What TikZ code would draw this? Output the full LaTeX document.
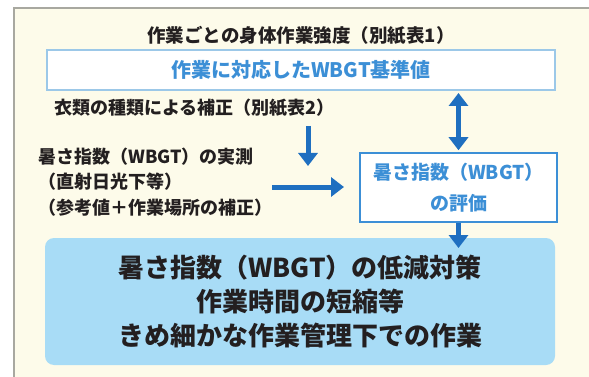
\documentclass[tikz,border=0pt]{standalone}
\usepackage{fontspec}
\newfontfamily\jp{Noto Sans CJK JP}
\usetikzlibrary{arrows.meta,calc}
\definecolor{cream}{HTML}{FDFBEA}
\definecolor{framegray}{HTML}{A8A8A0}
\definecolor{arrowblue}{HTML}{1F6FC0}
\definecolor{boxblue}{HTML}{3C8FD6}
\definecolor{lightborder}{HTML}{9CC8E8}
\definecolor{skyfill}{HTML}{A8DCF6}
\definecolor{txt}{HTML}{231F20}
\tikzset{
  x=1pt, y=1pt,
  lbl/.style={font=\jp\bfseries\fontsize{18}{24}\selectfont, text=txt, inner sep=0pt},
  bluebox/.style={draw=boxblue, line width=1.5pt, fill=white, font=\jp\bfseries\fontsize{19}{31}\selectfont, text=boxblue, align=center, inner sep=0pt},
  flow/.style={draw=arrowblue, line width=5pt, -{Triangle[width=19pt,length=13pt]}},
  flow2/.style={draw=arrowblue, line width=5pt, {Triangle[width=19pt,length=13pt]}-{Triangle[width=19pt,length=13pt]}},
}
\begin{document}
\begin{tikzpicture}
\useasboundingbox (0,0) rectangle (589,-377);
\begin{scope}
\clip (0,0) rectangle (589,-377);
\draw[fill=cream, draw=framegray, line width=2pt] (14,-8) rectangle (620,-420);
\end{scope}
% title
\node[lbl, font=\jp\bfseries\fontsize{18.5}{24}\selectfont] (title) at (301,-36) {作業ごとの身体作業強度（別紙表1）};
% top box
\node[bluebox, draw=lightborder, line width=2pt, minimum width=508pt, minimum height=40pt, font=\jp\bfseries\fontsize{20}{31}\selectfont] (top) at (301,-70) {作業に対応したWBGT基準値};
% clothing correction
\node[lbl, anchor=west] (cloth) at (54,-108) {衣類の種類による補正（別紙表2）};
% measurement text
\node[lbl, anchor=west, align=left, font=\jp\bfseries\fontsize{18}{25.5}\selectfont] (meas) at (38,-182) {暑さ指数（WBGT）の実測\\（直射日光下等）\\（参考値＋作業場所の補正）};
% evaluation box
\node[bluebox, minimum width=197pt, minimum height=69pt] (eval) at (458.5,-187.5) {暑さ指数（WBGT）\\の評価};
% bottom box
\node[fill=skyfill, rounded corners=9pt, minimum width=510pt, minimum height=127pt, inner sep=0pt, align=center, text=txt, font=\jp\bfseries\fontsize{26}{34}\selectfont] (bottom) at (300,-301.5) {暑さ指数（WBGT）の低減対策\\作業時間の短縮等\\きめ細かな作業管理下での作業};
% connectors
\coordinate (c1) at (308,-126);
\coordinate (c2) at (308,-166);
\draw[flow] (c1) -- (c2);
\coordinate (h1) at (272,-187);
\coordinate (h2) at (344,-187);
\draw[flow] (h1) -- (h2);
\draw[flow2, shorten <=2pt, shorten >=2pt] (top.south -| eval.north) -- (eval.north);
\coordinate (d2) at (458.5,-248);
\draw[flow] (eval.south) -- (d2);
\end{tikzpicture}
\end{document}
